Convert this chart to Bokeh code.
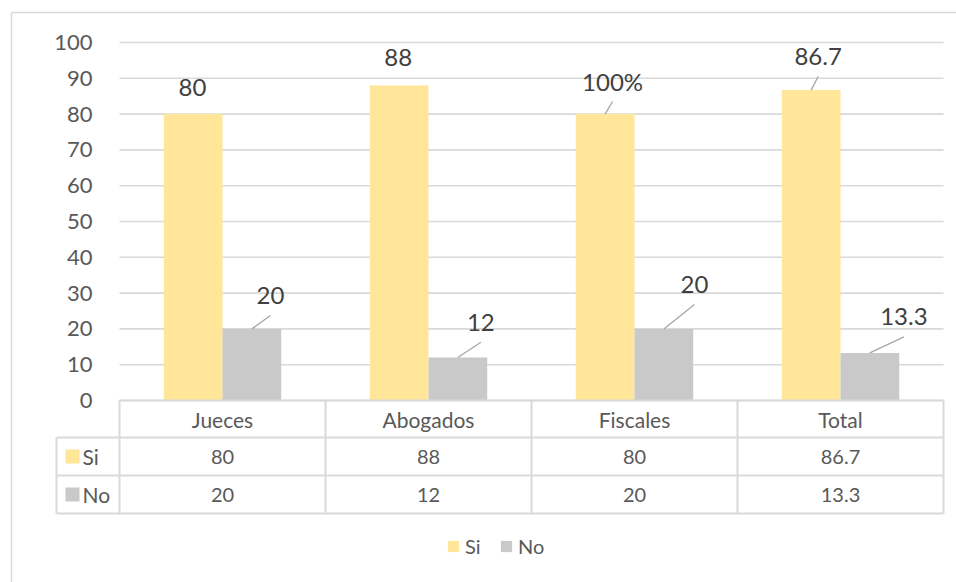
from bokeh.plotting import figure
from bokeh.models import Range1d, Legend, LegendItem
from bokeh.core.properties import value
from bokeh.embed import file_html
from bokeh.resources import INLINE

# ---------------- data ----------------
categories = ["Jueces", "Abogados", "Fiscales", "Total"]
si_values = [80, 88, 80, 86.7]
no_values = [20, 12, 20, 13.3]
si_labels = ["80", "88", "100%", "86.7"]
no_labels = ["20", "12", "20", "13.3"]
table_si = ["80", "88", "80", "86.7"]
table_no = ["20", "12", "20", "13.3"]
series_names = ["Si", "No"]
y_ticks = [0, 10, 20, 30, 40, 50, 60, 70, 80, 90, 100]
y_tick_labels = ["0", "10", "20", "30", "40", "50", "60", "70", "80", "90", "100"]

# manual data-label placement (screen px, relative to bar top centre)
si_label_dx = [-0.6, -1, 7.4, 7]
si_label_up = [27, 28, 32.6, 33.6]
si_leader = [False, False, True, True]
no_label_dx = [18.6, 23, 30.6, 34]
no_label_up = [33.4, 35.3, 44.4, 36]
no_leader = [True, True, True, True]

# ---------------- style ----------------
SI_COLOR = "#FFE699"
NO_COLOR = "#C9C9C9"
GRID = "#D9D9D9"
TXT = "#595959"
LBL = "#404040"
FONT = "Lato"

W, H = 956, 582
PX_CAT = 206.0      # px per category
PX_UNIT = 3.58      # px per value unit
X0 = 119.0          # canvas px of category 0 left edge
Y0 = 400.0          # canvas px of value 0


def dx(px):  # canvas px -> data x
    return (px - X0) / PX_CAT


def dy(py):  # canvas py -> data y
    return (Y0 - py) / PX_UNIT


p = figure(width=W, height=H, output_backend="svg", toolbar_location=None,
           x_range=Range1d(dx(0), dx(W)), y_range=Range1d(dy(H), dy(0)),
           min_border=0, min_border_left=0, min_border_right=0,
           min_border_top=0, min_border_bottom=0)
p.axis.visible = False
p.grid.visible = False
p.outline_line_color = None
p.background_fill_color = "white"
p.border_fill_color = "white"

n = len(categories)
bw = 0.285
ncat = n

# outer chart border (top and left visible)
p.segment(x0=[dx(11), dx(11)], y0=[dy(12), dy(12)], x1=[dx(W + 5), dx(11)], y1=[dy(12), dy(H + 5)],
          line_color=GRID, line_width=1.5)

# gridlines
p.segment(x0=[0] * len(y_ticks), x1=[ncat] * len(y_ticks), y0=y_ticks, y1=y_ticks,
          line_color=GRID, line_width=1.6)

# y tick labels
p.text(x=[dx(92)] * len(y_ticks), y=y_ticks, text=y_tick_labels,
       text_align="right", text_baseline="middle", text_color=TXT,
       text_font=value(FONT), text_font_size="22px")

# bars
si_x = [i + 0.5 - bw / 2 for i in range(n)]
no_x = [i + 0.5 + bw / 2 for i in range(n)]
si_r = p.vbar(x=si_x, top=si_values, bottom=0, width=bw, fill_color=SI_COLOR, line_color=None)
no_r = p.vbar(x=no_x, top=no_values, bottom=0, width=bw, fill_color=NO_COLOR, line_color=None)

# data labels + leader lines
for xs, vals, labs, ddx, up, lead in [(si_x, si_values, si_labels, si_label_dx, si_label_up, si_leader),
                                      (no_x, no_values, no_labels, no_label_dx, no_label_up, no_leader)]:
    lx = [xs[i] + ddx[i] / PX_CAT for i in range(n)]
    ly = [vals[i] + up[i] / PX_UNIT for i in range(n)]
    p.text(x=lx, y=ly, text=labs, text_align="center", text_baseline="middle",
           text_color=LBL, text_font=value(FONT), text_font_size="24px")
    idx = [i for i in range(n) if lead[i]]
    p.segment(x0=[xs[i] for i in idx], y0=[vals[i] for i in idx],
              x1=[xs[i] + ddx[i] / PX_CAT for i in idx],
              y1=[vals[i] + (up[i] - 20) / PX_UNIT for i in idx],
              line_color="#A6A6A6", line_width=1.3)

# data table under the chart
r_top, r1, r2, r3 = dy(400), dy(437), dy(475), dy(513)
lab_left = dx(56)
hx0 = [0, lab_left, lab_left, lab_left]
hx1 = [ncat] * 4
hy = [r_top, r1, r2, r3]
p.segment(x0=hx0, x1=hx1, y0=hy, y1=hy, line_color=GRID, line_width=2)
vx = [lab_left] + list(range(ncat + 1))
vy0 = [r1] + [r_top] * (ncat + 1)
p.segment(x0=vx, x1=vx, y0=vy0, y1=[r3] * len(vx), line_color=GRID, line_width=2)

cx = [i + 0.5 for i in range(n)]
p.text(x=cx, y=[(r_top + r1) / 2] * n, text=categories, text_align="center", text_baseline="middle",
       text_color=TXT, text_font=value(FONT), text_font_size="21px")
p.text(x=cx, y=[(r1 + r2) / 2] * n, text=table_si, text_align="center", text_baseline="middle",
       text_color=TXT, text_font=value(FONT), text_font_size="20px")
p.text(x=cx, y=[(r2 + r3) / 2] * n, text=table_no, text_align="center", text_baseline="middle",
       text_color=TXT, text_font=value(FONT), text_font_size="20px")

# row headers with colour keys
row_y = [(r1 + r2) / 2, (r2 + r3) / 2]
p.scatter(x=[dx(72)] * 2, y=row_y, marker="square", size=14,
          fill_color=[SI_COLOR, NO_COLOR], line_color=None)
p.text(x=[dx(82)] * 2, y=row_y, text=series_names, text_align="left", text_baseline="middle",
       text_color=TXT, text_font=value(FONT), text_font_size="21px")

# legend
legend = Legend(items=[LegendItem(label=series_names[0], renderers=[si_r]),
                       LegendItem(label=series_names[1], renderers=[no_r])],
                orientation="horizontal", location=(446, 24),
                glyph_width=14, glyph_height=14, label_standoff=5, spacing=14,
                padding=0, margin=0, border_line_color=None, background_fill_alpha=0,
                label_text_font=FONT, label_text_font_size="20px", label_text_color=TXT)
p.add_layout(legend, "center")

open("out.html", "w").write(file_html(p, INLINE))
